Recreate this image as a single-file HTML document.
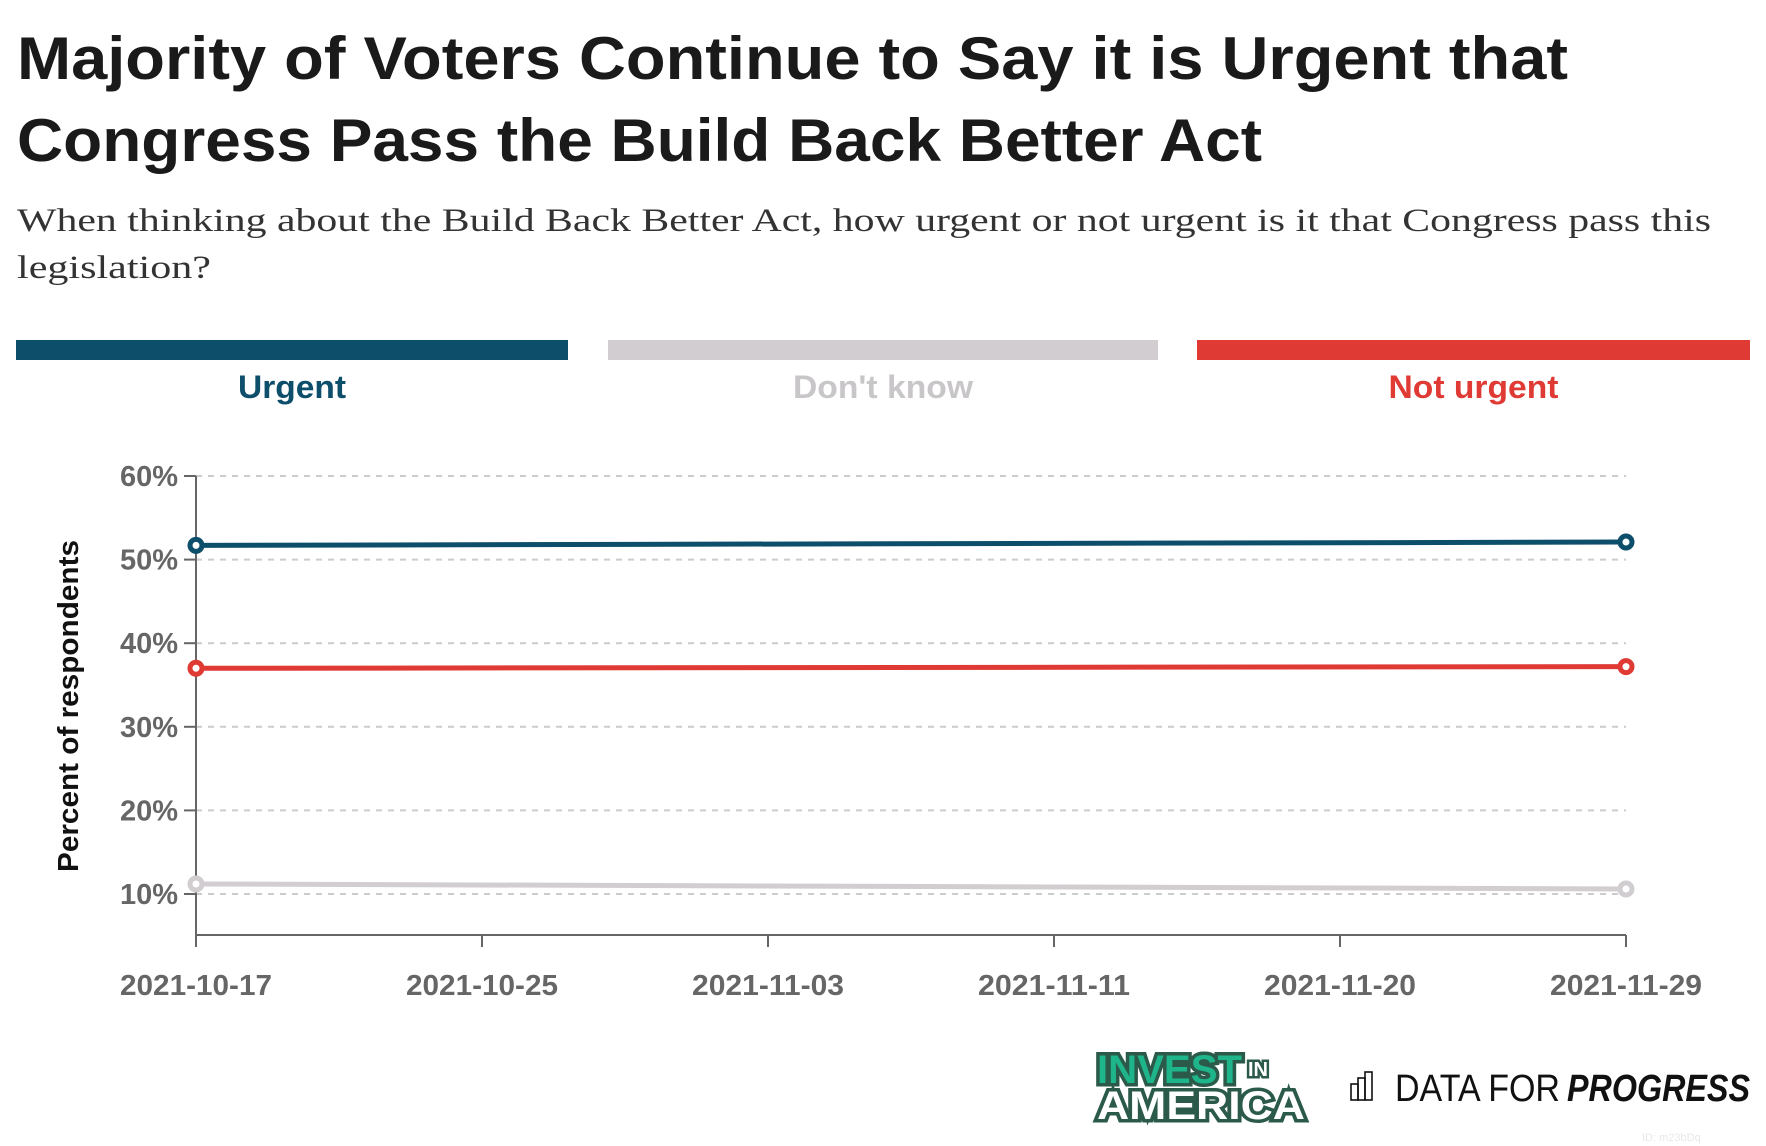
<!DOCTYPE html>
<html><head><meta charset="utf-8"><style>
html,body{margin:0;padding:0;background:#fff;}
svg{display:block;}
</style></head><body>
<svg id="chart" width="1766" height="1146" viewBox="0 0 1766 1146" xmlns="http://www.w3.org/2000/svg">
<g font-family="Liberation Sans, sans-serif">
<text x="17" y="79" font-size="60" font-weight="bold" fill="#1a1a1a" textLength="1551" lengthAdjust="spacingAndGlyphs">Majority of Voters Continue to Say it is Urgent that</text>
<text x="17" y="161" font-size="60" font-weight="bold" fill="#1a1a1a" textLength="1245" lengthAdjust="spacingAndGlyphs">Congress Pass the Build Back Better Act</text>
<text x="17" y="231" font-size="33" fill="#333" font-family="Liberation Serif, serif" textLength="1694" lengthAdjust="spacingAndGlyphs">When thinking about the Build Back Better Act, how urgent or not urgent is it that Congress pass this</text>
<text x="17" y="278" font-size="33" fill="#333" font-family="Liberation Serif, serif" textLength="194" lengthAdjust="spacingAndGlyphs">legislation?</text>
</g>
<g id="legend" font-family="Liberation Sans, sans-serif" font-size="32" font-weight="bold" text-anchor="middle"></g>
<g id="plot" font-family="Liberation Sans, sans-serif"></g>
<g font-family="Liberation Sans, sans-serif" font-weight="bold">
<text x="1097" y="1083" font-size="40" fill="#1fb58a" stroke="#2b5a4a" stroke-width="7" paint-order="stroke" textLength="145" lengthAdjust="spacingAndGlyphs">INVEST</text>
<text x="1248" y="1076" font-size="20" fill="#fff" stroke="#2b5a4a" stroke-width="5" paint-order="stroke">IN</text>
<text x="1097" y="1119" font-size="40" fill="#fff" stroke="#2b5a4a" stroke-width="7" paint-order="stroke" textLength="208" lengthAdjust="spacingAndGlyphs">AMERICA</text>
</g>
<g font-family="Liberation Sans, sans-serif">
<g fill="none" stroke="#111" stroke-width="1.6"><rect x="1351" y="1084" width="7" height="16"/><rect x="1358" y="1078" width="7" height="22"/><rect x="1365" y="1072" width="7" height="28"/></g>
<text x="1395" y="1101" font-size="38" fill="#111" textLength="165" lengthAdjust="spacingAndGlyphs">DATA FOR</text>
<text x="1567" y="1101" font-size="38" fill="#111" font-weight="bold" font-style="italic" textLength="183" lengthAdjust="spacingAndGlyphs">PROGRESS</text>
</g>
<text x="1642" y="1141" font-size="11" fill="#e8e8e8" font-family="Liberation Sans, sans-serif">ID: m23bDq</text>
</svg>
<script>
const seriesNames = ["Urgent", "Don't know", "Not urgent"];
const seriesColors = ["#0d4e6b", "#d1cdd0", "#e03a35"];
const dates = ["2021-10-17", "2021-11-29"];
const urgent = [51.7, 52.1];
const dontKnow = [11.2, 10.6];
const notUrgent = [37.0, 37.2];
const yTicks = [10, 20, 30, 40, 50, 60];
const xTickLabels = ["2021-10-17", "2021-10-25", "2021-11-03", "2021-11-11", "2021-11-20", "2021-11-29"];

const NS = "http://www.w3.org/2000/svg";
function mk(tag, attrs, parent){const e=document.createElementNS(NS,tag);for(const k in attrs)e.setAttribute(k,attrs[k]);parent.appendChild(e);return e;}
const X0=196, X1=1626, Y60=476, Y10=894;
const t0=Date.parse(dates[0]), t1=Date.parse(dates[dates.length-1]);
function xDate(d){return X0+(Date.parse(d)-t0)/(t1-t0)*(X1-X0);}
function xIdx(i){return X0+i*(X1-X0)/(xTickLabels.length-1);}
function y(v){return Y10+(v-10)*(Y60-Y10)/50;}

// legend
const legend=document.getElementById('legend');
const lx=[[16,568],[608,1158],[1197,1750]];
const lblColors=["#0d4e6b","#c9c6c9","#e03a35"];
const lblW=[108,180,170];
seriesNames.forEach((n,i)=>{
  const r=mk('rect',{x:lx[i][0],y:340,width:lx[i][1]-lx[i][0],height:20,fill:seriesColors[i]},legend);
  
  
  const t=mk('text',{x:(lx[i][0]+lx[i][1])/2,y:398,fill:lblColors[i],textLength:lblW[i],lengthAdjust:'spacingAndGlyphs'},legend);
  t.textContent=n;
  
  
});

const plot=document.getElementById('plot');
// gridlines & y ticks
yTicks.forEach(v=>{
  const g=mk('line',{x1:X0,x2:X1,y1:y(v),y2:y(v),stroke:'#cccccc','stroke-width':2,'stroke-dasharray':'6,6'},plot);
  
  
  const tk=mk('line',{x1:184,x2:X0,y1:y(v),y2:y(v),stroke:'#666','stroke-width':2},plot);
  
  
  const t=mk('text',{x:178,y:y(v)+10,'font-size':29,'font-weight':'bold',fill:'#666','text-anchor':'end'},plot);
  t.textContent=v+'%';
  
  
});
const ya=mk('line',{x1:X0,x2:X0,y1:Y60,y2:936,stroke:'#666','stroke-width':2},plot);


const xa=mk('line',{x1:X0,x2:X1,y1:935,y2:935,stroke:'#666','stroke-width':2},plot);


xTickLabels.forEach((l,i)=>{
  const tk=mk('line',{x1:xIdx(i),x2:xIdx(i),y1:935,y2:947,stroke:'#666','stroke-width':2},plot);
  
  
  const t=mk('text',{x:xIdx(i),y:995,'font-size':29,'font-weight':'bold',fill:'#666','text-anchor':'middle',textLength:152,lengthAdjust:'spacingAndGlyphs'},plot);
  t.textContent=l;
  
  
});
const yt=mk('text',{x:0,y:0,'font-size':29,'font-weight':'bold',fill:'#111','text-anchor':'middle',textLength:332,lengthAdjust:'spacingAndGlyphs',transform:'translate(78,706) rotate(-90)'},plot);
yt.textContent='Percent of respondents';



// series
const seriesData=[urgent,dontKnow,notUrgent];
const order=[1,2,0];
order.forEach(si=>{
  const vals=seriesData[si];
  const pts=vals.map((v,i)=>xDate(dates[i])+','+y(v)).join(' ');
  const pl=mk('polyline',{points:pts,fill:'none',stroke:seriesColors[si],'stroke-width':5},plot);
  
  
  vals.forEach((v,i)=>{
    const c=mk('circle',{cx:xDate(dates[i]),cy:y(v),r:6,fill:'#fff',stroke:seriesColors[si],'stroke-width':5},plot);
    
    
  });
});
</script>
</body></html>
